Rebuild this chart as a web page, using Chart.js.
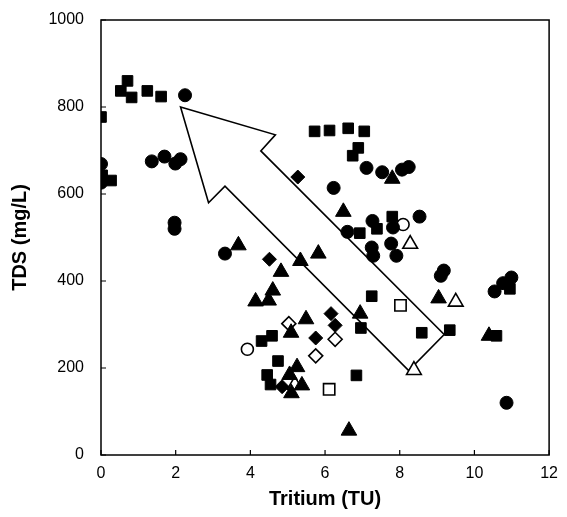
<!DOCTYPE html>
<html>
<head>
<meta charset="utf-8">
<script src="https://cdn.jsdelivr.net/npm/chart.js@4/dist/chart.umd.min.js"></script>
<style>
  html, body { margin: 0; padding: 0; background: #fff; }
  #wrap { width: 567px; height: 517px; }
</style>
</head>
<body>
<div id="wrap"><canvas id="chart" width="567" height="517"></canvas></div>
<script>
// Tritium (TU) and TDS (mg/L), one array pair per marker type
const xTicks = [0, 2, 4, 6, 8, 10, 12];
const yTicks = [0, 200, 400, 600, 800, 1000];

const filledSquareTU  = [0.0, 0.71, 0.53, 0.82, 1.24, 1.61, 0.03, 0.27, 5.72, 6.12, 6.62, 7.05, 6.89, 6.74, 7.80, 6.93, 7.39, 7.25, 8.59, 9.34, 10.95, 10.59, 4.58, 4.30, 4.74, 6.84, 4.45, 4.54, 6.96];
const filledSquareTDS = [777, 860, 837, 822, 837, 824, 643, 631, 744, 746, 751, 744, 706, 688, 548, 510, 520, 365, 281, 287, 382, 274, 274, 262, 216, 183, 184, 162, 292];

const filledCircleTU  = [2.25, 0.0, 0.0, 1.36, 1.70, 1.99, 2.13, 1.97, 1.97, 7.11, 7.53, 8.06, 8.24, 6.23, 7.27, 6.60, 7.82, 8.53, 7.25, 7.29, 7.77, 7.91, 9.10, 9.18, 10.54, 10.77, 10.99, 10.86, 3.32];
const filledCircleTDS = [827, 669, 626, 675, 686, 670, 680, 534, 520, 660, 650, 656, 662, 614, 538, 513, 523, 548, 477, 458, 486, 458, 412, 424, 376, 395, 408, 120, 463];

const filledTriangleTU  = [3.68, 4.82, 4.60, 4.14, 4.49, 5.34, 5.82, 6.49, 7.80, 5.49, 5.09, 5.25, 5.05, 5.38, 5.10, 6.94, 6.64, 9.04, 10.39];
const filledTriangleTDS = [482, 421, 378, 353, 355, 446, 463, 559, 635, 312, 281, 202, 184, 160, 142, 325, 56, 360, 274];

const filledDiamondTU  = [5.27, 4.51, 6.16, 6.27, 5.75, 4.85];
const filledDiamondTDS = [639, 450, 325, 298, 269, 157];

const openCircleTU  = [3.92, 8.09];
const openCircleTDS = [243, 530];

const openSquareTU  = [8.02, 6.11];
const openSquareTDS = [344, 151];

const openTriangleTU  = [8.28, 9.50, 8.38, 5.19];
const openTriangleTDS = [485, 352, 195, 161];

const openDiamondTU  = [5.03, 6.27, 5.75];
const openDiamondTDS = [302, 266, 228];

// outline of the big arrow annotation, in data units (TU, TDS)
const arrowTU  = [2.13, 4.67, 4.28, 9.19, 8.24, 3.32, 2.88];
const arrowTDS = [800, 736, 699, 277, 194, 618, 580];

function pts(xs, ys) {
  return xs.map((x, i) => ({ x: x, y: ys[i] }));
}

function series(label, xs, ys, style, radius, filled) {
  return {
    label: label,
    data: pts(xs, ys),
    pointStyle: style,
    pointRadius: radius,
    pointHoverRadius: radius,
    backgroundColor: filled ? "#000" : "#fff",
    borderColor: "#000",
    borderWidth: filled ? 1 : 1.6,
    showLine: false,
  };
}

const arrowPlugin = {
  id: "arrow",
  beforeDatasetsDraw(chart) {
    const ctx = chart.ctx;
    const xs = chart.scales.x, ys = chart.scales.y;
    ctx.save();
    ctx.beginPath();
    arrowTU.forEach((t, i) => {
      const px = xs.getPixelForValue(t), py = ys.getPixelForValue(arrowTDS[i]);
      if (i === 0) ctx.moveTo(px, py); else ctx.lineTo(px, py);
    });
    ctx.closePath();
    ctx.fillStyle = "#fff";
    ctx.fill();
    ctx.lineWidth = 1.6;
    ctx.strokeStyle = "#000";
    ctx.stroke();
    ctx.restore();
  },
};

// box round the plot and short inward ticks
const framePlugin = {
  id: "frame",
  afterDraw(chart) {
    const ctx = chart.ctx;
    const a = chart.chartArea;
    const xs = chart.scales.x, ys = chart.scales.y;
    ctx.save();
    ctx.strokeStyle = "#000";
    ctx.lineWidth = 1.5;
    ctx.strokeRect(a.left, a.top, a.right - a.left, a.bottom - a.top);
    ctx.lineWidth = 1.2;
    ctx.beginPath();
    xTicks.forEach((t) => {
      const px = xs.getPixelForValue(t);
      ctx.moveTo(px, a.bottom);
      ctx.lineTo(px, a.bottom - 5);
    });
    yTicks.forEach((t) => {
      const py = ys.getPixelForValue(t);
      ctx.moveTo(a.left, py);
      ctx.lineTo(a.left + 5, py);
    });
    ctx.stroke();
    ctx.restore();
  },
};

const ctx = document.getElementById("chart").getContext("2d");
new Chart(ctx, {
  type: "scatter",
  data: {
    datasets: [
      series("Filled squares", filledSquareTU, filledSquareTDS, "rect", 7.5, true),
      series("Filled circles", filledCircleTU, filledCircleTDS, "circle", 6.5, true),
      series("Filled triangles", filledTriangleTU, filledTriangleTDS, "triangle", 9, true),
      series("Filled diamonds", filledDiamondTU, filledDiamondTDS, "rectRot", 7, true),
      series("Open circles", openCircleTU, openCircleTDS, "circle", 6, false),
      series("Open squares", openSquareTU, openSquareTDS, "rect", 8, false),
      series("Open triangles", openTriangleTU, openTriangleTDS, "triangle", 8.5, false),
      series("Open diamonds", openDiamondTU, openDiamondTDS, "rectRot", 7, false),
    ],
  },
  options: {
    responsive: false,
    animation: false,
    events: [],
    layout: { padding: { top: 20, right: 16, left: 0, bottom: 0 } },
    plugins: {
      legend: { display: false },
      tooltip: { enabled: false },
    },
    scales: {
      x: {
        type: "linear",
        min: 0,
        max: 12,
        afterBuildTicks: (scale) => { scale.ticks = xTicks.map((v) => ({ value: v })); },
        afterFit: (scale) => { scale.height = 62; },
        grid: { display: false, drawTicks: false },
        border: { display: false },
        ticks: {
          color: "#000",
          padding: 9,
          font: { family: "Liberation Sans", size: 16 },
        },
        title: {
          display: true,
          text: "Tritium (TU)",
          color: "#000",
          padding: { top: 2, bottom: 6 },
          font: { family: "Liberation Sans", size: 20, weight: "bold" },
        },
      },
      y: {
        type: "linear",
        min: 0,
        max: 1000,
        afterBuildTicks: (scale) => { scale.ticks = yTicks.map((v) => ({ value: v })); },
        afterFit: (scale) => { scale.width = 101; },
        // transparent tick marks only push the labels left of the axis
        grid: { display: true, drawOnChartArea: false, drawTicks: true, tickLength: 15, color: "rgba(0,0,0,0)" },
        border: { display: false },
        ticks: {
          color: "#000",
          padding: 2,
          callback: (v) => String(v),
          font: { family: "Liberation Sans", size: 16 },
        },
        title: {
          display: true,
          text: "TDS (mg/L)",
          color: "#000",
          padding: { top: 8, bottom: 0 },
          font: { family: "Liberation Sans", size: 20, weight: "bold" },
        },
      },
    },
  },
  plugins: [arrowPlugin, framePlugin],
});
</script>
</body>
</html>
